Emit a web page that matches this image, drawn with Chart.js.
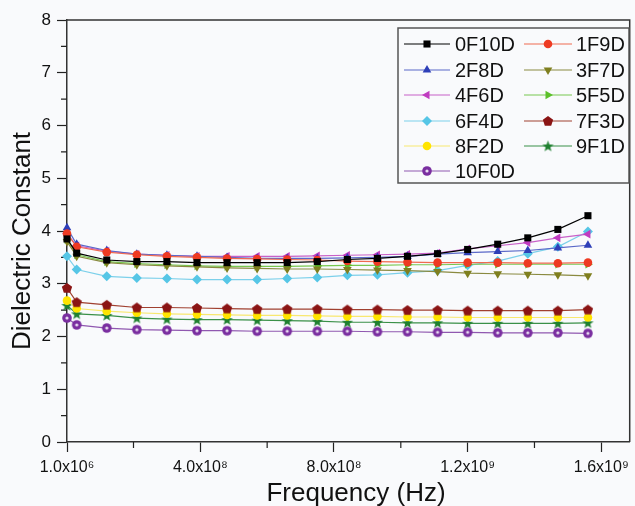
<!DOCTYPE html>
<html><head><meta charset="utf-8">
<script src="https://cdn.jsdelivr.net/npm/chart.js@4/dist/chart.umd.min.js"></script>
<style>html,body{margin:0;padding:0;background:#f9fafc;} #wrap{width:635px;height:506px;position:relative;}</style>
</head><body><div id="wrap"><canvas id="c" width="635" height="506"></canvas></div>
<script>
// ---- data ----
const frequencies = [1e6, 3e7, 1.2e8, 2.1e8, 3.0e8, 3.9e8, 4.8e8, 5.7e8, 6.6e8, 7.5e8, 8.4e8, 9.3e8, 1.02e9, 1.11e9, 1.2e9, 1.29e9, 1.38e9, 1.47e9, 1.56e9];
const seriesNames = ['0F10D','1F9D','2F8D','3F7D','4F6D','5F5D','6F4D','7F3D','8F2D','9F1D','10F0D'];
const s0F10D = [3.85, 3.58, 3.45, 3.42, 3.42, 3.40, 3.40, 3.40, 3.40, 3.42, 3.46, 3.48, 3.52, 3.57, 3.65, 3.75, 3.87, 4.03, 4.29];
const s1F9D  = [3.95, 3.70, 3.60, 3.55, 3.52, 3.50, 3.48, 3.47, 3.46, 3.45, 3.43, 3.42, 3.41, 3.40, 3.40, 3.40, 3.39, 3.39, 3.40];
const s2F8D  = [4.06, 3.75, 3.63, 3.56, 3.54, 3.52, 3.50, 3.48, 3.48, 3.48, 3.49, 3.50, 3.52, 3.56, 3.59, 3.61, 3.63, 3.68, 3.73];
const s3F7D  = [3.80, 3.52, 3.40, 3.36, 3.34, 3.32, 3.30, 3.29, 3.28, 3.28, 3.27, 3.26, 3.25, 3.23, 3.20, 3.19, 3.18, 3.17, 3.15];
const s4F6D  = [3.95, 3.72, 3.62, 3.56, 3.54, 3.52, 3.52, 3.52, 3.52, 3.53, 3.54, 3.55, 3.56, 3.58, 3.66, 3.72, 3.78, 3.87, 3.94];
const s5F5D  = [3.84, 3.55, 3.42, 3.38, 3.36, 3.34, 3.33, 3.33, 3.33, 3.34, 3.35, 3.35, 3.36, 3.36, 3.37, 3.37, 3.37, 3.37, 3.37];
const s6F4D  = [3.52, 3.27, 3.14, 3.11, 3.10, 3.08, 3.08, 3.08, 3.10, 3.12, 3.16, 3.17, 3.21, 3.25, 3.35, 3.43, 3.57, 3.70, 3.99];
const s7F3D  = [2.92, 2.65, 2.60, 2.55, 2.55, 2.54, 2.53, 2.52, 2.52, 2.52, 2.51, 2.51, 2.50, 2.50, 2.49, 2.49, 2.49, 2.49, 2.51];
const s8F2D  = [2.68, 2.53, 2.48, 2.45, 2.43, 2.42, 2.41, 2.40, 2.40, 2.39, 2.38, 2.38, 2.37, 2.37, 2.36, 2.36, 2.36, 2.36, 2.36];
const s9F1D  = [2.59, 2.43, 2.40, 2.35, 2.33, 2.32, 2.32, 2.31, 2.30, 2.29, 2.27, 2.27, 2.26, 2.26, 2.25, 2.25, 2.25, 2.25, 2.26];
const s10F0D = [2.35, 2.22, 2.16, 2.13, 2.12, 2.11, 2.11, 2.10, 2.10, 2.10, 2.10, 2.09, 2.09, 2.08, 2.08, 2.07, 2.07, 2.07, 2.06];
const xTickValues = [1e6, 4e8, 8e8, 1.2e9, 1.6e9];
const xTickLabels = ['1.0x10\u2076', '4.0x10\u2078', '8.0x10\u2078', '1.2x10\u2079', '1.6x10\u2079'];
const xMinorTicks = [2e8, 6e8, 1.0e9, 1.4e9];
const yTickValues = [0, 1, 2, 3, 4, 5, 6, 7, 8];
const yMinorTicks = [0.5, 1.5, 2.5, 3.5, 4.5, 5.5, 6.5, 7.5];
const xTitle = 'Frequency (Hz)';
const yTitle = 'Dielectric Constant';

// ---- custom marker images ----
function mk(size, fn){ const c=document.createElement('canvas'); c.width=c.height=size; fn(c.getContext('2d'), size/2); return c; }
const pentagon = mk(12, (ctx,c)=>{ ctx.fillStyle='#8a1414'; ctx.beginPath(); for(let i=0;i<5;i++){const a=-Math.PI/2+i*2*Math.PI/5; ctx.lineTo(c+5.4*Math.cos(a), c+0.4+5.4*Math.sin(a));} ctx.closePath(); ctx.fill(); });
const star = mk(13, (ctx,c)=>{ ctx.fillStyle='#1f8030'; ctx.beginPath(); for(let i=0;i<10;i++){const r=i%2?2.4:6; const a=-Math.PI/2+i*Math.PI/5; ctx.lineTo(c+r*Math.cos(a), c+0.5+r*Math.sin(a));} ctx.closePath(); ctx.fill(); });
const sphere = mk(12, (ctx,c)=>{ ctx.fillStyle='#7a2ea0'; ctx.beginPath(); ctx.arc(c,c,4.8,0,2*Math.PI); ctx.fill(); ctx.fillStyle='#e8dcf0'; ctx.beginPath(); ctx.arc(c,c,1.6,0,2*Math.PI); ctx.fill(); });

const styles = [
  {color:'#000000', line:'#000000', style:'rect', rot:0, r:5},
  {color:'#ee3a22', line:'#f06a50', style:'circle', rot:0, r:4.3},
  {color:'#2e3fb8', line:'#5a68c8', style:'triangle', rot:0, r:5},
  {color:'#7f7f1f', line:'#8a8a40', style:'triangle', rot:180, r:5},
  {color:'#c03cc0', line:'#c860c8', style:'triangle', rot:270, r:5},
  {color:'#5cc02a', line:'#78c850', style:'triangle', rot:90, r:5},
  {color:'#56c6e6', line:'#7cd0ea', style:'rectRot', rot:0, r:5},
  {color:'#8a1414', line:'#a04030', style:pentagon, rot:0, r:5},
  {color:'#ffe400', line:'#f8e870', style:'circle', rot:0, r:4.3},
  {color:'#1f8030', line:'#3a9048', style:star, rot:0, r:5},
  {color:'#7a2ea0', line:'#9058b0', style:sphere, rot:0, r:5}
];
const seriesValues = [s0F10D, s1F9D, s2F8D, s3F7D, s4F6D, s5F5D, s6F4D, s7F3D, s8F2D, s9F1D, s10F0D];

const datasets = seriesNames.map((name,i)=>({
  label: name,
  data: frequencies.map((f,j)=>({x:f, y:seriesValues[i][j]})),
  borderColor: styles[i].line,
  backgroundColor: styles[i].color,
  pointBackgroundColor: styles[i].color,
  pointBorderColor: styles[i].color,
  pointBorderWidth: 0,
  pointStyle: styles[i].style,
  pointRotation: styles[i].rot,
  pointRadius: styles[i].r,
  borderWidth: 1.2,
  tension: 0,
  clip: false
}));

const FONT = "'Liberation Sans', Arial, sans-serif";

const framePlugin = {
  id: 'frame',
  beforeDatasetsDraw(chart){
    const {ctx, chartArea:a, scales} = chart;
    ctx.save();
    ctx.strokeStyle = '#333'; ctx.lineWidth = 1.5;
    ctx.beginPath();
    ctx.moveTo(a.left, a.top); ctx.lineTo(a.right, a.top); ctx.lineTo(a.right, a.bottom);
    ctx.stroke();
    ctx.lineWidth = 1.2; ctx.strokeStyle = '#222';
    ctx.beginPath();
    xMinorTicks.forEach(v=>{ const px = scales.x.getPixelForValue(v); ctx.moveTo(px, a.bottom); ctx.lineTo(px, a.bottom+6); });
    yMinorTicks.forEach(v=>{ const py = scales.y.getPixelForValue(v); ctx.moveTo(a.left, py); ctx.lineTo(a.left-6, py); });
    ctx.stroke();
    // axis titles
    ctx.fillStyle = '#111';
    ctx.font = "26px " + FONT;
    ctx.textAlign = 'center';
    ctx.textBaseline = 'alphabetic';
    ctx.fillText(xTitle, 356, 501);
    ctx.save();
    ctx.translate(23, 241);
    ctx.rotate(-Math.PI/2);
    ctx.textBaseline = 'middle';
    ctx.fillText(yTitle, 0, 0);
    ctx.restore();
    ctx.restore();
  }
};

const legendPlugin = {
  id: 'boxLegend',
  afterDraw(chart){
    const ctx = chart.ctx;
    const box = {x:398, y:28, w:231, h:155};
    ctx.save();
    ctx.fillStyle = '#f9fafc';
    ctx.fillRect(box.x, box.y, box.w, box.h);
    ctx.strokeStyle = '#555'; ctx.lineWidth = 1.5;
    ctx.strokeRect(box.x, box.y, box.w, box.h);
    const rows = [44, 70, 95, 121, 146, 171];
    const cols = [{l0:404, l1:450, m:427, t:455}, {l0:524, l1:572, m:548, t:576}];
    ctx.font = "20px " + FONT;
    ctx.textBaseline = 'middle';
    seriesNames.forEach((name,i)=>{
      const col = cols[i%2], y = rows[Math.floor(i/2)];
      const st = styles[i];
      ctx.strokeStyle = st.line; ctx.lineWidth = 1.2;
      ctx.beginPath(); ctx.moveTo(col.l0, y); ctx.lineTo(col.l1, y); ctx.stroke();
      ctx.fillStyle = st.color; ctx.strokeStyle = st.color;
      Chart.helpers.drawPoint(ctx, {pointStyle: st.style, rotation: st.rot, radius: st.r, borderWidth: 0}, col.m, y);
      ctx.fillStyle = '#111';
      ctx.fillText(name, col.t, y + 1);
    });
    ctx.restore();
  }
};

new Chart(document.getElementById('c'), {
  type: 'line',
  data: { datasets },
  plugins: [framePlugin, legendPlugin],
  options: {
    responsive: false,
    animation: false,
    devicePixelRatio: 1,
    layout: { padding: { top: 20, right: 2, left: 0, bottom: 0 } },
    plugins: { legend: { display: false }, tooltip: { enabled: false } },
    scales: {
      x: {
        type: 'linear', min: 1e6, max: 1.685e9,
        afterBuildTicks: s => { s.ticks = xTickValues.map(v=>({value:v})); },
        afterFit: s => { s.height = 64; },
        ticks: { callback: (v,i)=>xTickLabels[i], font: {family: FONT, size: 16}, color: '#111', maxRotation: 0, autoSkip: false, padding: 6 },
        grid: { drawOnChartArea: false, drawTicks: true, tickLength: 10, tickColor: '#222', tickWidth: 1.2 },
        border: { display: true, color: '#333', width: 1.5 },
        title: { display: false }
      },
      y: {
        type: 'linear', min: 0, max: 8,
        afterBuildTicks: s => { s.ticks = yTickValues.map(v=>({value:v})); },
        afterFit: s => { s.width = 67; },
        ticks: { font: {family: FONT, size: 17}, color: '#111', padding: 6 },
        grid: { drawOnChartArea: false, drawTicks: true, tickLength: 10, tickColor: '#222', tickWidth: 1.2 },
        border: { display: true, color: '#333', width: 1.5 },
        title: { display: false }
      }
    }
  }
});
</script></body></html>
